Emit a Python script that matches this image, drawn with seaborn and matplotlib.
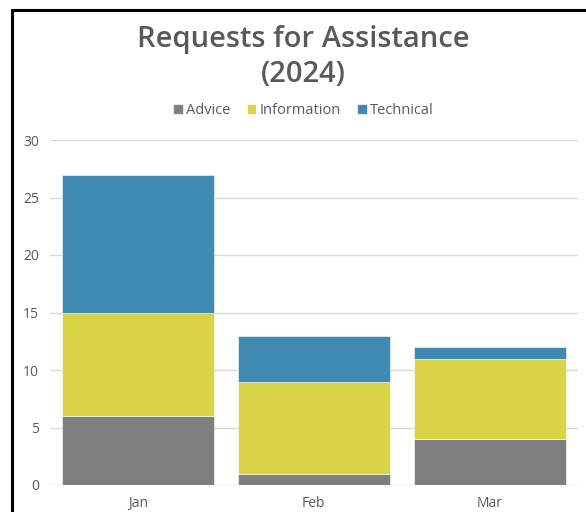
import matplotlib
matplotlib.use("Agg")
import matplotlib.pyplot as plt
import seaborn as sns
import pandas as pd
from matplotlib.patches import Rectangle

months = ["Jan", "Feb", "Mar"]
advice = [6, 1, 4]
information = [9, 8, 7]
technical = [12, 4, 1]

series_names = ["Advice", "Information", "Technical"]
series_colors = ["#7f7f7f", "#d9d446", "#3f89b3"]

sns.set_theme(style="white")
plt.rcParams["font.family"] = ["Open Sans", "DejaVu Sans"]

text_color = "#595959"

df = pd.DataFrame({"Month": months, "Advice": advice,
                   "Information": information, "Technical": technical})

fig = plt.figure(figsize=(5.86, 5.12), dpi=100)
ax = fig.add_axes([50 / 586, 1 - 485 / 512, 527.5 / 586, 345 / 512])

bottom = [0] * len(months)
for name, color in zip(series_names, series_colors):
    sns.barplot(data=df, x="Month", y=name, color=color, bottom=bottom,
                width=0.865, ax=ax, edgecolor="#ffffff",
                linewidth=0.4, saturation=1)
    bottom = [b + v for b, v in zip(bottom, df[name])]

if ax.get_legend() is not None:
    ax.get_legend().remove()

ax.set_xlim(-0.5, 2.5)
ax.set_ylim(0, 30)
ax.set_yticks(range(0, 31, 5))
ax.yaxis.grid(True, color="#d9d9d9", linewidth=1)
ax.set_axisbelow(True)
for s in ax.spines.values():
    s.set_visible(False)
ax.set_xlabel("")
ax.set_ylabel("")
ax.tick_params(axis="both", length=0, labelsize=10, colors=text_color, pad=8)

handles = [Rectangle((0, 0), 1, 1, color=c) for c in series_colors]
fig.legend(handles, series_names, loc="center", bbox_to_anchor=(304 / 586, 1 - 111 / 512),
           ncol=3, frameon=False, fontsize=10.5, labelcolor=text_color,
           handlelength=0.5, handleheight=0.5, handletextpad=0.3, columnspacing=1.2)

fig.text(303 / 586, 1 - 57 / 512, "Requests for Assistance\n(2024)", ha="center", va="center",
         fontsize=21, color=text_color, fontweight="semibold", linespacing=1.25)

# frame around the chart area
fig.add_artist(Rectangle((12 / 586, -0.1), 1.2, 1 - 10 / 512 + 0.1, transform=fig.transFigure,
                         fill=False, edgecolor="black", linewidth=2.2))

fig.savefig("out.png", dpi=100)
